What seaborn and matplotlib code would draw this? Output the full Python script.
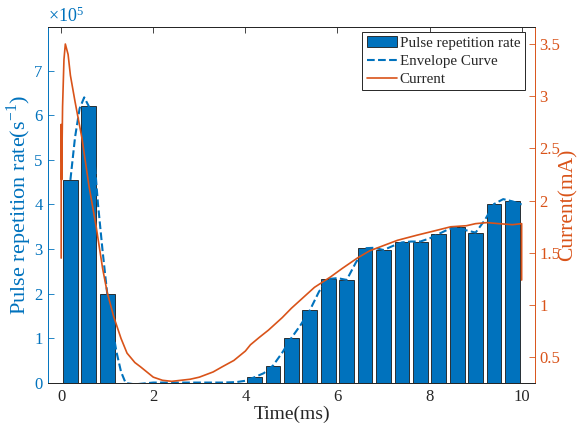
import matplotlib
matplotlib.use("Agg")
import matplotlib.pyplot as plt
import seaborn as sns
from matplotlib.patches import Patch
from matplotlib.lines import Line2D
from matplotlib.ticker import FuncFormatter

BLUE = "#0072BD"
ORANGE = "#D95319"
DARK = "#262626"

# bar centres (ms) and pulse repetition rate (s^-1)
bar_time = [0.2, 0.6, 1.0, 1.4, 1.8, 2.2, 2.6, 3.0, 3.4, 3.8, 4.2, 4.6, 5.0,
            5.4, 5.8, 6.2, 6.6, 7.0, 7.4, 7.8, 8.2, 8.6, 9.0, 9.4, 9.8]
bar_rate = [455000, 620000, 200000, 0, 0, 0, 0, 0, 0, 0, 14000, 39000, 101000,
            163000, 233000, 231000, 302000, 298000, 315000, 317000, 334000,
            349000, 337000, 401000, 407000]

# envelope curve
env_time = [0.2, 0.3, 0.4, 0.5, 0.6, 0.7, 0.8, 0.9, 1.0, 1.1, 1.2, 1.3, 1.4,
            1.6, 2.0, 2.5, 3.0, 3.5, 3.8, 4.0, 4.2, 4.4, 4.6, 4.8, 5.0, 5.2,
            5.4, 5.6, 5.8, 6.0, 6.2, 6.4, 6.6, 6.8, 7.0, 7.2, 7.4, 7.6, 7.8,
            8.0, 8.2, 8.4, 8.6, 8.8, 9.0, 9.2, 9.4, 9.6, 9.8, 10.0]
env_rate = [455000, 550000, 615000, 640000, 620000, 530000, 400000, 295000,
            200000, 130000, 70000, 25000, 0, -3000, 1000, 1000, 1000, 1000,
            2000, 5000, 13000, 22000, 39000, 68000, 101000, 130000, 163000,
            205000, 233000, 235000, 231000, 270000, 302000, 303000, 298000,
            307000, 315000, 317000, 317000, 324000, 334000, 344000, 349000,
            342000, 337000, 365000, 401000, 412000, 407000, 400000]

# discharge current (mA)
cur_time = [0.0, 0.0, 0.01, 0.03, 0.06, 0.09, 0.15, 0.2, 0.3, 0.45, 0.6, 0.76,
            0.9, 1.0, 1.14, 1.3, 1.43, 1.6, 1.72, 2.0, 2.2, 2.4, 2.6, 2.8,
            3.0, 3.3, 3.5, 3.75, 4.0, 4.11, 4.3, 4.5, 4.8, 5.0, 5.2, 5.5,
            5.85, 6.1, 6.43, 6.7, 7.0, 7.3, 7.73, 8.1, 8.46, 8.8, 9.0, 9.25,
            9.5, 9.8, 10.0, 10.0]
current = [1.45, 2.73, 2.2, 2.9, 3.35, 3.5, 3.4, 3.2, 2.95, 2.6, 2.15, 1.75,
           1.35, 1.12, 0.89, 0.68, 0.54, 0.45, 0.41, 0.31, 0.28, 0.27, 0.28,
           0.29, 0.31, 0.36, 0.41, 0.47, 0.56, 0.62, 0.69, 0.76, 0.88, 0.97,
           1.05, 1.17, 1.27, 1.35, 1.45, 1.52, 1.57, 1.62, 1.67, 1.71, 1.75,
           1.76, 1.78, 1.79, 1.78, 1.77, 1.78, 1.24]

sns.set_style("white")
plt.rcParams["font.family"] = ["Liberation Serif", "DejaVu Serif"]
plt.rcParams["mathtext.fontset"] = "custom"
plt.rcParams["mathtext.rm"] = "Liberation Serif"

fig = plt.figure(figsize=(5.84, 4.32), dpi=100)
ax1 = fig.add_axes([0.0827, 0.1134, 0.8334, 0.8234])

sns.barplot(x=bar_time, y=bar_rate, native_scale=True, width=0.8, color=BLUE,
            saturation=1, edgecolor="#1a1a1a", linewidth=0.6, errorbar=None, ax=ax1)
sns.lineplot(x=env_time, y=env_rate, color=BLUE, linestyle="--", linewidth=1.5,
             estimator=None, sort=False, ax=ax1)

ax2 = ax1.twinx()
sns.lineplot(x=cur_time, y=current, color=ORANGE, linewidth=1.2,
             estimator=None, sort=False, ax=ax2)

ax1.set_xlim(-0.28, 10.29)
ax1.set_ylim(0, 797000)
ax2.set_ylim(0.254, 3.66)
ax1.set_xticks([0, 2, 4, 6, 8, 10])
ax1.set_yticks([i * 100000 for i in range(8)])
ax1.yaxis.set_major_formatter(FuncFormatter(lambda v, p: f"{v / 1e5:g}"))
ax2.set_yticks([0.5, 1, 1.5, 2, 2.5, 3, 3.5])
ax2.yaxis.set_major_formatter(FuncFormatter(lambda v, p: f"{v:g}"))

ax1.tick_params(axis="x", direction="in", top=True, length=4, width=0.6,
                colors=DARK, labelsize=12, pad=4)
ax1.tick_params(axis="y", direction="in", length=4, width=0.6,
                colors=BLUE, labelsize=12, pad=4)
ax2.tick_params(axis="y", direction="in", length=4, width=0.6,
                colors=ORANGE, labelsize=12, pad=3)

for ax in (ax1, ax2):
    for s in ax.spines.values():
        s.set_linewidth(0.7)
        s.set_color(DARK)
ax1.spines["left"].set_color(BLUE)
ax1.spines["right"].set_visible(False)
ax2.spines["left"].set_visible(False)
ax2.spines["right"].set_color(ORANGE)

ax1.set_xlabel("Time(ms)", fontsize=14, color=DARK, labelpad=1)
ax1.set_ylabel(r"Pulse repetition rate(s$^{\mathregular{-1}}$)", fontsize=16,
               color=BLUE, labelpad=0)
ax2.set_ylabel("Current(mA)", fontsize=15.5, color=ORANGE, labelpad=-1)
ax1.text(0.0, 1.003, r"$\mathregular{\times 10^{5}}$", transform=ax1.transAxes,
         color=BLUE, fontsize=13, ha="left", va="bottom")

handles = [Patch(facecolor=BLUE, edgecolor="#1a1a1a", linewidth=0.6),
           Line2D([], [], color=BLUE, linestyle="--", linewidth=1.5),
           Line2D([], [], color=ORANGE, linewidth=1.2)]
labels = ["Pulse repetition rate", "Envelope Curve", "Current"]
leg = ax2.legend(handles, labels, loc="upper right", bbox_to_anchor=(0.979, 0.987),
                 fontsize=10.8, frameon=True, fancybox=False, framealpha=1,
                 edgecolor=DARK, borderpad=0.3, labelspacing=0.3,
                 handlelength=2.0, handletextpad=0.2, borderaxespad=0)
leg.get_frame().set_linewidth(0.7)

fig.savefig("out.png", dpi=100)
